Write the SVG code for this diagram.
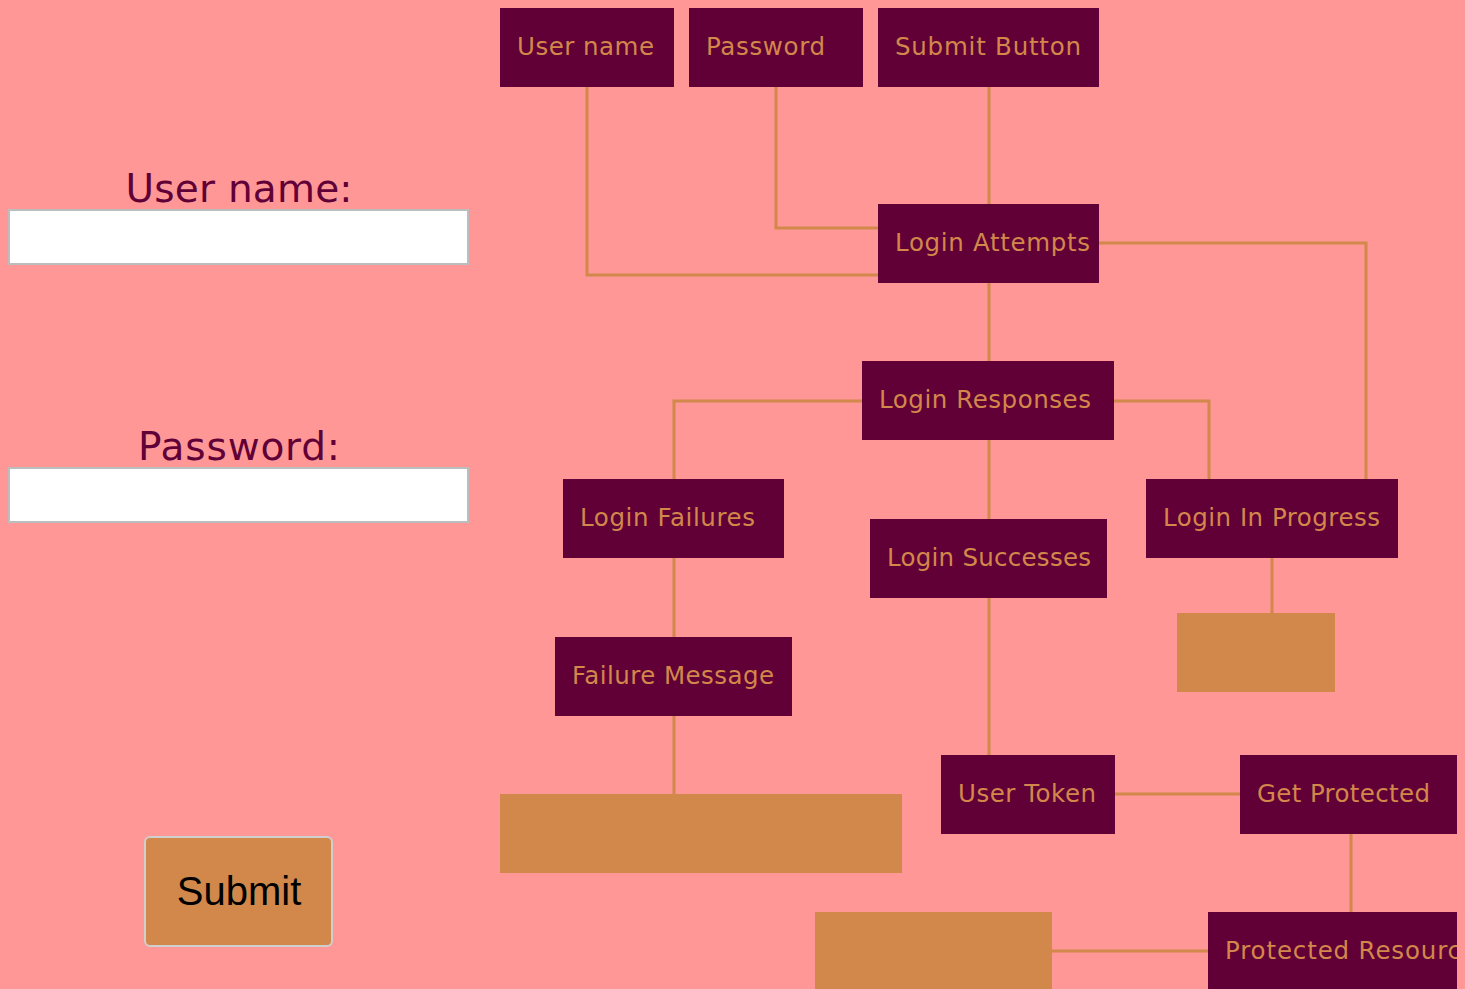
<svg xmlns="http://www.w3.org/2000/svg" width="1465" height="989" viewBox="0 0 1465 989">
<defs>
<style>
.n{fill:#610036}
.o{fill:#D2874B}
.t{fill:#D2874B;font-family:"DejaVu Sans","Open Sans",sans-serif;font-size:24.5px}
.c{fill:none;stroke:#D2874B;stroke-width:3}
.lbl{fill:#610036;font-family:"DejaVu Sans","Open Sans",sans-serif;font-size:39px;text-anchor:middle}
.in{fill:#fff;stroke:#bdbdbd;stroke-width:2}
</style>
<clipPath id="clipR"><rect x="0" y="0" width="1457" height="989"/></clipPath>
</defs>
<rect width="1465" height="989" fill="#FF9797"/>
<g id="form">
<text class="lbl" x="239" y="202" textLength="227">User name:</text>
<rect class="in" x="9" y="210" width="459" height="54"/>
<text class="lbl" x="239" y="460" textLength="202">Password:</text>
<rect class="in" x="9" y="468" width="459" height="54"/>
<rect x="145" y="837" width="187" height="109" rx="5" fill="#D2874B" stroke="#cfcfcf" stroke-width="2"/>
<text x="239" y="905" font-family="Liberation Sans, Arial, sans-serif" font-size="40" text-anchor="middle" fill="#000">Submit</text>
</g>
<g id="connectors">
<polyline class="c" points="587,87 587,275 878,275"/>
<polyline class="c" points="776,87 776,228 878,228"/>
<line class="c" x1="989" y1="87" x2="989" y2="204"/>
<polyline class="c" points="1099,243 1366,243 1366,479"/>
<line class="c" x1="989" y1="283" x2="989" y2="361"/>
<polyline class="c" points="862,401 674,401 674,479"/>
<polyline class="c" points="1114,401 1209,401 1209,479"/>
<line class="c" x1="989" y1="440" x2="989" y2="519"/>
<line class="c" x1="674" y1="558" x2="674" y2="637"/>
<line class="c" x1="1272" y1="558" x2="1272" y2="613"/>
<line class="c" x1="674" y1="716" x2="674" y2="794"/>
<line class="c" x1="989" y1="598" x2="989" y2="755"/>
<line class="c" x1="1115" y1="794" x2="1240" y2="794"/>
<line class="c" x1="1351" y1="834" x2="1351" y2="912"/>
<line class="c" x1="1052" y1="951" x2="1208" y2="951"/>
</g>
<g id="n-username"><rect class="n" x="500" y="8" width="174" height="79"/><text class="t" x="517" y="55" textLength="137">User name</text></g>
<g id="n-password"><rect class="n" x="689" y="8" width="174" height="79"/><text class="t" x="706" y="55" textLength="119">Password</text></g>
<g id="n-submit"><rect class="n" x="878" y="8" width="221" height="79"/><text class="t" x="895" y="55" textLength="186">Submit Button</text></g>
<g id="n-attempts"><rect class="n" x="878" y="204" width="221" height="79"/><text class="t" x="895" y="251" textLength="195">Login Attempts</text></g>
<g id="n-responses"><rect class="n" x="862" y="361" width="252" height="79"/><text class="t" x="879" y="408" textLength="212">Login Responses</text></g>
<g id="n-failures"><rect class="n" x="563" y="479" width="221" height="79"/><text class="t" x="580" y="526" textLength="175">Login Failures</text></g>
<g id="n-progress"><rect class="n" x="1146" y="479" width="252" height="79"/><text class="t" x="1163" y="526" textLength="217">Login In Progress</text></g>
<g id="n-successes"><rect class="n" x="870" y="519" width="237" height="79"/><text class="t" x="887" y="566" textLength="204">Login Successes</text></g>
<g id="n-progress-out"><rect class="o" x="1177" y="613" width="158" height="79"/></g>
<g id="n-failmsg"><rect class="n" x="555" y="637" width="237" height="79"/><text class="t" x="572" y="684" textLength="202">Failure Message</text></g>
<g id="n-failmsg-out"><rect class="o" x="500" y="794" width="402" height="79"/></g>
<g id="n-token"><rect class="n" x="941" y="755" width="174" height="79"/><text class="t" x="958" y="802" textLength="138">User Token</text></g>
<g id="n-getprot"><rect class="n" x="1240" y="755" width="217" height="79"/><text class="t" x="1257" y="802" textLength="173">Get Protected</text></g>
<g id="n-resource-out"><rect class="o" x="815" y="912" width="237" height="77"/></g>
<g id="n-resource" clip-path="url(#clipR)"><rect class="n" x="1208" y="912" width="249" height="77"/><text class="t" x="1225" y="959" textLength="252">Protected Resource</text></g>
</svg>
